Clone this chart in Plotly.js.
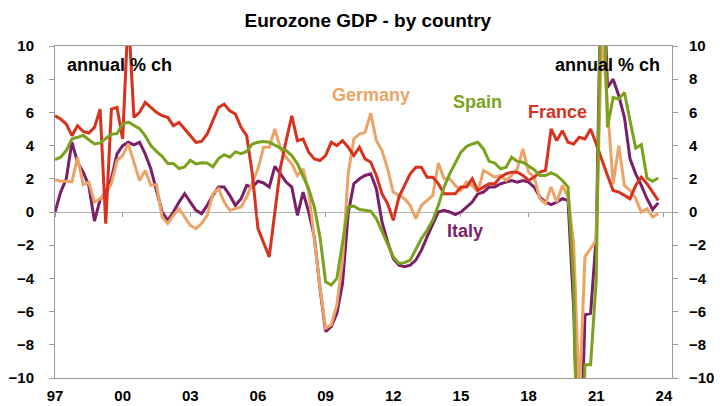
<!DOCTYPE html>
<html>
<head>
<meta charset="utf-8">
<script src="https://cdn.plot.ly/plotly-3.0.1.min.js"></script>
<style>
  html, body { margin: 0; padding: 0; background: #fff; }
  #chart { width: 725px; height: 406px; }
</style>
</head>
<body>
<div id="chart"></div>
<script>
// Quarterly observations, 1997 Q1 .. 2023 Q4 (annual % change)
const startYear = 1997;
const nQuarters = 108;
const quarters = [];
for (let i = 0; i < nQuarters; i++) quarters.push(startYear + i * 0.25);

const france = [
  5.8, 5.6, 5.3, 4.6, 5.2, 4.85, 4.75, 5.1, 6.2, -0.7,
  6.2, 6.3, 4.4, 12, 5.7, 6.0, 6.6, 6.3, 6.0, 5.8,
  5.7, 5.2, 5.4, 5.0, 4.6, 4.2, 4.25, 4.7, 5.5, 6.3,
  6.5, 6.1, 5.9, 5.1, 4.6, 2.3, -1.0, -1.8, -2.7, 0.0,
  2.7, 4.3, 5.8, 4.3, 4.4, 3.6, 3.2, 3.1, 3.4, 4.2,
  4.0, 4.3, 3.9, 3.4, 3.9, 3.2, 3.0, 2.2, 1.1, 0.5,
  -0.5, 0.9, 1.6, 2.3, 2.7, 2.7, 2.1, 2.1, 1.7, 1.1,
  1.1, 1.1, 1.5, 1.5, 2.0, 1.3, 1.5, 1.7, 1.7, 2.1,
  2.3, 2.4, 2.4, 2.2, 1.9, 2.1, 2.4, 2.5, 5.0, 4.3,
  4.9, 4.2, 4.1, 4.5, 4.4, 5.0, 4.1, 3.1, 2.2, 1.3,
  1.2, 1.0, 0.8, 1.6, 2.1, 1.7, 1.2, 0.7
];

const spain = [
  3.16, 3.3, 3.7, 4.4, 4.5, 4.62, 4.35, 4.1, 4.16, 4.4,
  4.68, 4.72, 5.3, 5.42, 5.2, 5.02, 4.6, 4.0, 3.65, 3.35,
  2.92, 2.92, 2.62, 2.72, 3.12, 2.9, 2.96, 2.95, 2.72, 3.22,
  3.45, 3.3, 3.62, 3.52, 3.65, 4.1, 4.2, 4.25, 4.2, 4.0,
  3.85, 3.7, 3.4, 2.9, 2.1, 1.4, 0.3, -1.5, -4.2, -4.4,
  -4.0, -1.7, 0.3, 0.36, 0.15, 0.1, 0.05, -0.4, -1.2, -2.0,
  -2.7, -3.1, -3.05, -2.9, -2.2, -1.6, -1.1, -0.5, 0.4, 1.5,
  2.3, 3.0, 3.6, 3.95, 4.1, 4.2, 3.8, 3.05, 2.95, 2.6,
  2.7, 3.3, 3.05, 3.0, 2.75, 2.55, 2.2, 2.2, 2.35, 2.2,
  1.9, 1.5, -4.3, -21.6, -9.2, -9.2, -4.1, 17.8, 5.1, 6.9,
  6.8, 7.2, 5.5, 3.85, 4.05, 2.05, 1.85, 2.05
];

const germany = [
  1.95, 1.85, 1.85, 1.82, 3.3, 1.65, 1.8, 0.6, 0.8, 1.1,
  1.7, 3.1, 3.4, 4.1, 3.0, 1.9, 2.5, 1.6, 1.65, -0.3,
  -0.7, -0.2, 0.2, -0.3, -0.8, -1.0, -0.7, -0.2, 1.1, 1.4,
  0.6, 0.1, 0.2, 0.3, 0.9, 1.8, 2.6, 3.9, 3.9, 5.0,
  3.8, 3.3, 2.9, 2.2, 2.6, 1.2, -1.8, -4.5, -7.0, -6.8,
  -5.6, -2.9, 2.3, 4.4, 4.7, 4.8, 5.95, 4.3, 3.7, 2.6,
  1.2, 1.0, 0.8, 0.4, -0.4, 0.4, 0.7, 1.0, 2.95, 2.0,
  2.0, 1.6, 1.3, 1.8, 1.6, 1.2, 2.5, 2.3, 2.1, 2.2,
  1.9, 2.2, 2.6, 3.8, 2.4, 2.1, 0.8, 0.5, 1.5, 0.6,
  1.6, 0.9, -1.9, -11.3, -2.7, -2.2, -1.7, 11, 6.5, 1.7,
  4.0, 1.6, 1.3, 0.8, 0.0, 0.2, -0.3, -0.1
];

const italy = [
  0.0, 1.2, 2.0, 4.2, 3.0, 2.4, 1.6, -0.55, 0.75, 1.2,
  2.0, 3.5, 4.0, 4.2, 4.05, 4.2, 3.5, 2.6, 1.3, 0.0,
  -0.5, 0.0, 0.6, 1.1, 0.6, 0.1, -0.1, 0.4, 1.0, 1.5,
  1.5, 1.0, 0.4, 0.8, 1.6, 1.5, 1.85, 1.75, 1.5, 2.75,
  2.3, 1.8, 1.5, -0.2, 1.2, 0.0, -1.5, -4.6, -7.2, -6.9,
  -6.1, -4.3, -0.1, 1.7, 2.0, 2.2, 2.3, 1.4, -0.6, -1.8,
  -2.8, -3.2, -3.3, -3.2, -2.9, -2.3, -1.5, -0.8, 0.0, 0.1,
  0.0, -0.15, 0.0, 0.3, 0.6, 1.1, 1.2, 1.5, 1.5, 1.7,
  1.8, 1.9, 1.8, 1.9, 1.8, 1.5, 0.9, 0.6, 0.45, 0.6,
  0.8, 0.7, -5.8, -18.1, -6.2, -6.1, -1.5, 17, 7.5, 8.0,
  7.0, 5.7, 3.2, 2.3, 1.6, 0.8, 0.15, 0.55
];

const tickYears = [1997, 2000, 2003, 2006, 2009, 2012, 2015, 2018, 2021, 2024];
const tickLabels = ['97', '00', '03', '06', '09', '12', '15', '18', '21', '24'];
const yTicks = [-10, -8, -6, -4, -2, 0, 2, 4, 6, 8, 10];

const colors = {
  france: '#D8311D',
  spain: '#7AA21E',
  germany: '#ECA466',
  italy: '#7A1F68'
};

const FONT = 'Liberation Sans, Arial, sans-serif';

function line(y, color, name) {
  return {
    x: quarters, y: y, type: 'scatter', mode: 'lines', name: name,
    line: { color: color, width: 3 }, hoverinfo: 'x+y+name'
  };
}

const traces = [
  line(italy, colors.italy, 'Italy'),
  line(germany, colors.germany, 'Germany'),
  line(france, colors.france, 'France'),
  line(spain, colors.spain, 'Spain'),
  { x: [], y: [], xaxis: 'x2', yaxis: 'y2', type: 'scatter', mode: 'lines', showlegend: false, hoverinfo: 'skip' }
];

const xRange = [1997, 2024.36];
const yRange = [-10, 10];

const labelFont = (c) => ({ family: FONT, size: 18, color: c, weight: 'bold' });

const layout = {
  width: 725, height: 406,
  margin: { l: 55, r: 53, t: 46, b: 28 },
  paper_bgcolor: '#fff', plot_bgcolor: '#fff',
  showlegend: false,
  font: { family: FONT, color: '#000' },
  title: {
    text: 'Eurozone GDP - by country',
    font: { family: FONT, size: 19, color: '#000', weight: 'bold' },
    xref: 'paper', x: 0.507, xanchor: 'center',
    yref: 'container', y: 0.951, yanchor: 'middle'
  },
  xaxis: {
    range: xRange, tickmode: 'array', tickvals: tickYears, ticktext: tickLabels,
    ticks: 'outside', ticklen: 4, tickcolor: 'rgba(0,0,0,0)',
    showline: true, mirror: true, linecolor: '#9a9a9a', linewidth: 1,
    showgrid: false, zeroline: false,
    tickfont: { family: FONT, size: 15, color: '#000', weight: 'bold' }
  },
  xaxis2: {
    range: xRange, overlaying: 'x', anchor: 'free', position: 0.5,
    tickmode: 'array', tickvals: tickYears, ticks: 'outside', ticklen: 4,
    tickcolor: '#9a9a9a', showticklabels: false, showline: false,
    showgrid: false, zeroline: false
  },
  yaxis: {
    range: yRange, tickmode: 'array', tickvals: yTicks,
    ticks: 'outside', ticklen: 5, tickcolor: '#9a9a9a',
    ticklabelstandoff: 12,
    showline: true, mirror: true, linecolor: '#9a9a9a', linewidth: 1,
    showgrid: false, zeroline: true, zerolinecolor: '#b0b0b0', zerolinewidth: 1,
    tickfont: { family: FONT, size: 15, color: '#000', weight: 'bold' }
  },
  yaxis2: {
    range: yRange, overlaying: 'y', side: 'right', anchor: 'x',
    tickmode: 'array', tickvals: yTicks,
    ticks: 'outside', ticklen: 5, tickcolor: '#9a9a9a',
    ticklabelstandoff: 8,
    showline: false, showgrid: false, zeroline: false,
    tickfont: { family: FONT, size: 15, color: '#000', weight: 'bold' }
  },
  annotations: [
    { text: 'annual % ch', xref: 'paper', yref: 'paper', x: 0.016, y: 0.943,
      xanchor: 'left', yanchor: 'middle', showarrow: false, font: labelFont('#000') },
    { text: 'annual % ch', xref: 'paper', yref: 'paper', x: 0.984, y: 0.943,
      xanchor: 'right', yanchor: 'middle', showarrow: false, font: labelFont('#000') },
    { text: 'Germany', xref: 'paper', yref: 'paper', x: 0.512, y: 0.852,
      xanchor: 'center', yanchor: 'middle', showarrow: false, font: labelFont(colors.germany) },
    { text: 'Spain', xref: 'paper', yref: 'paper', x: 0.684, y: 0.831,
      xanchor: 'center', yanchor: 'middle', showarrow: false, font: labelFont(colors.spain) },
    { text: 'France', xref: 'paper', yref: 'paper', x: 0.815, y: 0.801,
      xanchor: 'center', yanchor: 'middle', showarrow: false, font: labelFont(colors.france) },
    { text: 'Italy', xref: 'paper', yref: 'paper', x: 0.6645, y: 0.443,
      xanchor: 'center', yanchor: 'middle', showarrow: false, font: labelFont(colors.italy) }
  ]
};

Plotly.newPlot('chart', traces, layout, { staticPlot: true, displayModeBar: false });
</script>
</body>
</html>
